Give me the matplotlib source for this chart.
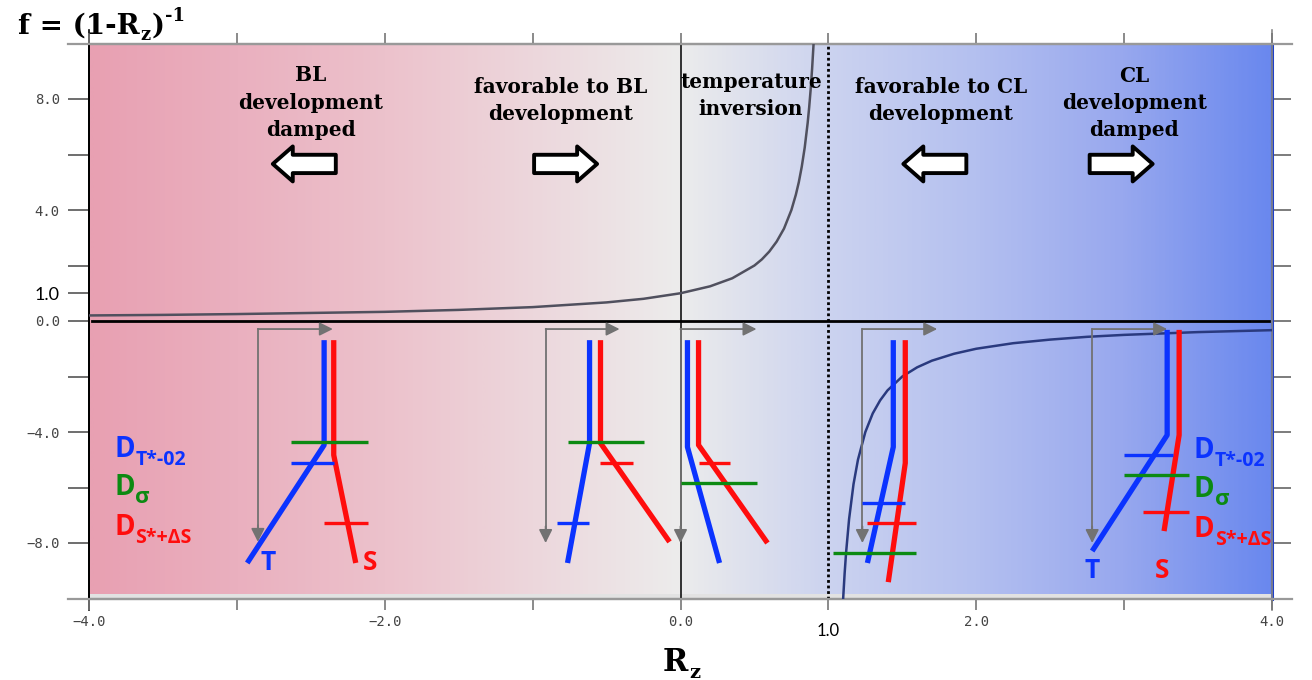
import numpy as np
import matplotlib
matplotlib.use("Agg")
import matplotlib.pyplot as plt
from matplotlib.colors import LinearSegmentedColormap
from matplotlib.patches import FancyArrow
from matplotlib.lines import Line2D
import matplotlib.transforms as mtransforms

# ---------------- data ----------------
# f = (1 - Rz)^-1
curve1_x = [-4.0, -3.5, -3.0, -2.5, -2.0, -1.5, -1.0, -0.5, -0.25, 0.0, 0.2, 0.35, 0.5,
            0.55, 0.6, 0.65, 0.7, 0.75, 0.78, 0.8, 0.82, 0.84, 0.86, 0.87, 0.88, 0.89, 0.9]
curve1_y = [0.20, 0.22, 0.25, 0.29, 0.33, 0.40, 0.50, 0.67, 0.80, 1.00, 1.25, 1.54, 2.00,
            2.22, 2.50, 2.86, 3.33, 4.00, 4.55, 5.00, 5.56, 6.25, 7.14, 7.69, 8.33, 9.09, 10.0]
curve2_x = [1.10, 1.11, 1.12, 1.14, 1.17, 1.20, 1.25, 1.30, 1.35, 1.40, 1.50, 1.60, 1.70,
            1.85, 2.0, 2.25, 2.5, 2.75, 3.0, 3.5, 4.0]
curve2_y = [-10.0, -9.09, -8.33, -7.14, -5.88, -5.0, -4.0, -3.33, -2.86, -2.5, -2.0, -1.67,
            -1.43, -1.18, -1.0, -0.8, -0.67, -0.57, -0.5, -0.4, -0.33]

# schematic T / S profiles (one per regime)
T_x = [[-2.41, -2.41, -2.93], [-0.615, -0.615, -0.764], [0.047, 0.047, 0.264],
       [1.439, 1.439, 1.264], [3.291, 3.291, 2.784]]
T_y = [[-0.69, -4.47, -8.72], [-0.69, -4.40, -8.72], [-0.69, -4.54, -8.72],
       [-0.69, -4.54, -8.72], [-0.32, -4.11, -8.29]]
S_x = [[-2.345, -2.345, -2.196], [-0.541, -0.541, -0.074], [0.122, 0.122, 0.588],
       [1.520, 1.520, 1.405], [3.372, 3.372, 3.270]]
S_y = [[-0.69, -4.83, -8.72], [-0.69, -4.40, -7.96], [-0.69, -4.47, -8.00],
       [-0.69, -5.12, -9.41], [-0.32, -4.11, -7.57]]

# depth marks (x0, x1, y)
DT_marks = [(-2.635, -2.345, -5.12), (-0.838, -0.622, -7.28),
            (1.230, 1.520, -6.56), (2.997, 3.328, -4.83)]
Dsig_marks = [(-2.635, -2.115, -4.36), (-0.764, -0.250, -4.36), (0.0, 0.52, -5.84),
              (1.034, 1.595, -8.36), (2.997, 3.436, -5.55)]
DS_marks = [(-2.412, -2.115, -7.28), (-0.547, -0.324, -5.12), (0.122, 0.338, -5.12),
            (1.264, 1.595, -7.28), (3.125, 3.436, -6.88)]

# gray L-shaped axes arrows
gray_corner_x = [-2.858, -0.912, 0.0, 1.230, 2.784]
gray_right_x = [-2.351, -0.412, 0.514, 1.736, 3.291]
gray_top_y = [-0.29, -0.29, -0.29, -0.29, -0.29]
gray_bottom_y = [-7.96, -8.0, -8.0, -8.0, -8.0]

region_text = ["BL\ndevelopment\ndamped", "favorable to BL\ndevelopment",
               "temperature\ninversion", "favorable to CL\ndevelopment",
               "CL\ndevelopment\ndamped"]
region_x = [-2.50, -0.81, 0.476, 1.76, 3.07]
region_y = [7.87, 7.95, 8.13, 7.95, 7.86]

block_arrow_x = [-2.544, -0.777, 1.72, 2.98]
block_arrow_dir = [-1, 1, -1, 1]
block_arrow_y = 5.66

xticks = [-4, -3, -2, -1, 0, 1, 2, 3, 4]
xticklabels = ["\u22124.0", "", "\u22122.0", "", "0.0", "", "2.0", "", "4.0"]
yticks = [-8, -6, -4, -2, 0, 1, 2, 4, 6, 8]
yticklabels = ["\u22128.0", "", "\u22124.0", "", "0.0", "1.0", "", "4.0", "", "8.0"]
yticks_right = [-8, -6, -4, -2, 0, 2, 4, 6, 8]

grad_pos = [0, 0.125, 0.25, 0.375, 0.5, 0.625, 0.75, 0.875, 1.0]
grad_col = ['#e8a0b2', '#eab0bf', '#ecc2cc', '#edd7dc', '#ececec',
            '#ccd3ef', '#b4c0f0', '#98a8ee', '#6a88ee']

BLUE = '#0b33ff'
RED = '#ff0d0d'
GREEN = '#0c8a12'
GRAY = '#727272'

# ---------------- figure ----------------
fig = plt.figure(figsize=(13.12, 6.8), dpi=100)
fig.patch.set_facecolor('white')
ax = fig.add_axes([89 / 1312, 1 - 598.5 / 680, 1183 / 1312, 555 / 680])
ax.set_facecolor('#e2e2e2')

cmap = LinearSegmentedColormap.from_list('bg', list(zip(grad_pos, grad_col)))
ax.imshow(np.linspace(0, 1, 600)[None, :], extent=[-4, 4, -9.85, 9.92], cmap=cmap,
          aspect='auto', zorder=0, interpolation='bilinear')
ax.set_xlim(-4, 4)
ax.set_ylim(-10, 10)

# reference lines
ax.axvline(0, color='black', lw=1.1, zorder=2)
ax.axvline(1, color='black', lw=2.0, ls=(0, (1, 1)), zorder=2)
ax.plot([-3.98, 3.98], [0, 0], color='black', lw=2.0, zorder=3)

# curves
ax.plot(curve1_x, curve1_y, color='#50505e', lw=1.8, zorder=3)
ax.plot(curve2_x, curve2_y, color='#2a3a7e', lw=1.8, zorder=3)

# gray L arrows
for cx, rx, ty, by in zip(gray_corner_x, gray_right_x, gray_top_y, gray_bottom_y):
    ax.plot([cx, cx], [ty, by + 0.3], color=GRAY, lw=1.3, zorder=4)
    ax.annotate('', xy=(rx, ty), xytext=(cx, ty),
                arrowprops=dict(arrowstyle='-|>', color=GRAY, lw=1.3,
                                mutation_scale=20, shrinkA=0, shrinkB=0), zorder=4)
    ax.annotate('', xy=(cx, by), xytext=(cx, by + 0.6),
                arrowprops=dict(arrowstyle='-|>', color=GRAY, lw=1.3,
                                mutation_scale=20, shrinkA=0, shrinkB=0), zorder=4)

# profiles
for tx, ty in zip(T_x, T_y):
    ax.plot(tx, ty, color=BLUE, lw=3.8, zorder=5, solid_capstyle='butt')
for sx, sy in zip(S_x, S_y):
    ax.plot(sx, sy, color=RED, lw=3.8, zorder=5, solid_capstyle='butt')
for marks, col in ((DT_marks, BLUE), (Dsig_marks, GREEN), (DS_marks, RED)):
    for x0, x1, y in marks:
        ax.plot([x0, x1], [y, y], color=col, lw=2.4, zorder=6, solid_capstyle='butt')

# block arrows
for xc, d in zip(block_arrow_x, block_arrow_dir):
    L = 0.426
    ax.add_patch(FancyArrow(xc - d * L / 2, block_arrow_y, d * L, 0, width=0.66,
                            head_width=1.26, head_length=0.135,
                            length_includes_head=True, facecolor='white',
                            edgecolor='black', lw=2.8, joinstyle='round', zorder=6))

# region texts
for t, x, y in zip(region_text, region_x, region_y):
    ax.text(x, y, t, ha='center', va='center', multialignment='center',
            fontsize=14.5, fontweight='bold', family='DejaVu Serif',
            linespacing=1.45, zorder=7)


def rich(ax, x, y, runs, coords='data', color='black', family='DejaVu Serif'):
    first, s0, dy0 = runs[0]
    prev = ax.annotate(first, xy=(x, y), xycoords=coords, xytext=(0, dy0),
                       textcoords='offset points', fontsize=s0, va='baseline',
                       ha='left', color=color, family=family, fontweight='bold',
                       annotation_clip=False, zorder=8)
    for txt, s, dy in runs[1:]:
        prev = ax.annotate(txt, xy=(1, y), xycoords=(prev, coords), xytext=(0.5, dy),
                           textcoords='offset points', fontsize=s, va='baseline',
                           ha='left', color=color, family=family, fontweight='bold',
                           annotation_clip=False, zorder=8)
    return prev


SANS = ['Open Sans', 'DejaVu Sans']
legend_runs = [([('D', 20, 0), ('T*-02', 14, -6)], BLUE),
               ([('D', 20, 0), ('\u03c3', 16, -6)], GREEN),
               ([('D', 20, 0), ('S*+\u0394S', 14, -6)], RED)]
legend_y_left = [-4.90, -6.27, -7.71]
legend_y_right = [-4.94, -6.34, -7.78]
for (runs, col), yl, yr in zip(legend_runs, legend_y_left, legend_y_right):
    rich(ax, -3.83, yl, runs, color=col, family=SANS)
    rich(ax, 3.47, yr, runs, color=col, family=SANS)

for x, y, s, col in ((-2.84, -8.97, 'T', BLUE), (-2.15, -8.97, 'S', RED),
                     (2.73, -9.26, 'T', BLUE), (3.21, -9.26, 'S', RED)):
    ax.text(x, y, s, color=col, fontsize=19, fontweight='bold', family=SANS,
            ha='left', va='baseline', zorder=8)

# title and x label
rich(ax, -0.060, 1.018, [('f = (1-R', 20, 0), ('z', 13, -5), (')', 20, 0), ('-1', 13, 9)],
     coords='axes fraction')
rich(ax, 0.485, -0.130, [('R', 22, 0), ('z', 14, -5)], coords='axes fraction')

# ---------------- axes styling ----------------
ax.set_xticks(xticks)
ax.set_xticklabels(xticklabels, family='DejaVu Sans Mono', fontsize=10, color='#444444')
ax.set_yticks(yticks)
ax.set_yticklabels(yticklabels, family='DejaVu Sans Mono', fontsize=10, color='#444444')
ax.tick_params(axis='x', direction='out', length=8, width=1.2, color='#777777',
               top=True, bottom=True, pad=4)
ax.tick_params(axis='y', direction='out', length=15, width=1.2, color='#555555',
               left=True, right=False, pad=6)
for lbl in ax.get_yticklabels():
    if lbl.get_text() == '1.0':
        lbl.set_fontsize(13)
        lbl.set_color('black')
        lbl.set_family(['Lato', 'DejaVu Sans'])
        lbl.set_fontweight('normal')

trans = mtransforms.blended_transform_factory(ax.transData, ax.transAxes)
ax.text(1.0, -0.058, '1.0', transform=trans, ha='center', va='center', fontsize=12,
        family=['Lato', 'DejaVu Sans'], color='black')

sec = ax.secondary_yaxis('right')
sec.set_yticks(yticks_right)
sec.tick_params(direction='out', length=14, width=1.2, color='#666666',
                labelright=False)
sec.spines['right'].set_color('#1e3fc8')
sec.spines['right'].set_linewidth(2.2)

ax.spines['right'].set_visible(False)
ax.spines['left'].set_color('black')
ax.spines['left'].set_linewidth(1.4)
for s in ('top', 'bottom'):
    ax.spines[s].set_color('#999999')
    ax.spines[s].set_linewidth(1.6)

# spine extensions beyond the plotting frame
for yy in (0, 1):
    ax.add_line(Line2D([-0.018, 1.017], [yy, yy], transform=ax.transAxes,
                       color='#999999', lw=1.6, clip_on=False, zorder=1))
ax.add_line(Line2D([0, 0], [-0.02, 1.025], transform=ax.transAxes,
                   color='black', lw=1.2, clip_on=False, zorder=1))
ax.add_line(Line2D([1, 1], [-0.02, 1.025], transform=ax.transAxes,
                   color='#888888', lw=1.2, clip_on=False, zorder=1))

fig.savefig('out.png', dpi=100)
